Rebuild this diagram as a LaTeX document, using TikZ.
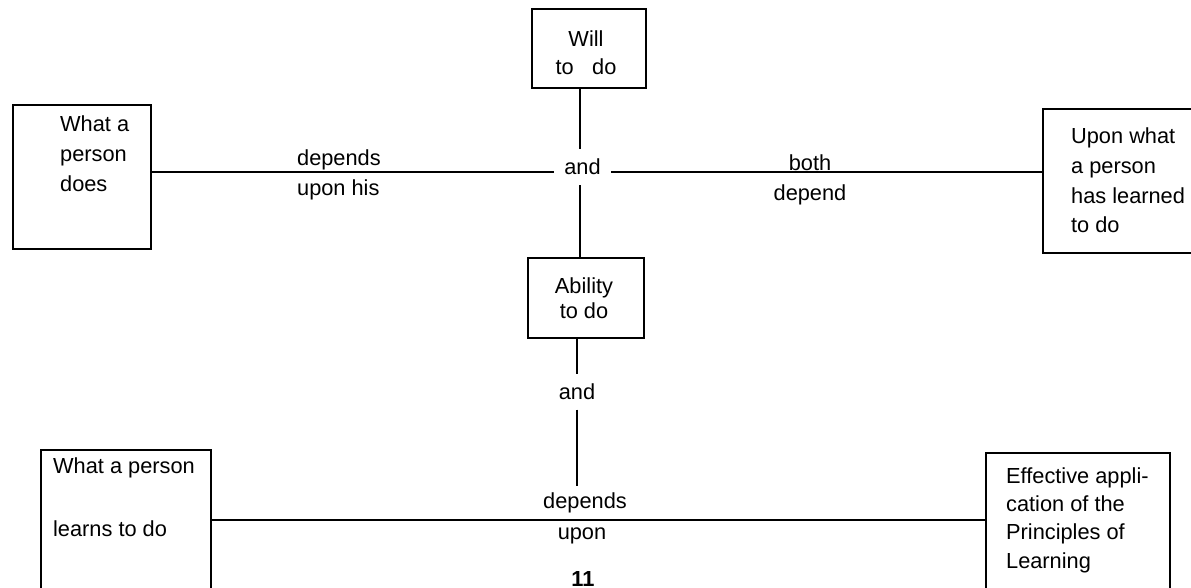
\documentclass[tikz,border=0pt]{standalone}
\usepackage{fontspec}
\setmainfont{Liberation Sans}
\begin{document}
\begin{tikzpicture}[x=0.02cm,y=-0.02cm,line width=1.3pt,
  box/.style={draw,rectangle,anchor=north west,inner sep=0pt},
  txt/.style={inner sep=0pt,align=left,anchor=base west},
  ctxt/.style={inner sep=0pt,align=center,anchor=base},
  conn/.style={draw,line width=1.3pt}]
\clip (0,0) rectangle (1191,588);
% boxes
\node[box,minimum width=2.76cm,minimum height=2.88cm] (b1) at (12,104) {};
\node[box,minimum width=2.28cm,minimum height=1.58cm] (will) at (531,8) {};
\node[box,minimum width=2.32cm,minimum height=1.60cm] (abil) at (527,257) {};
\node[box,minimum width=4.00cm,minimum height=2.88cm] (b4) at (1042,108) {};
\node[box,minimum width=3.40cm,minimum height=4.00cm] (b5) at (40,449) {};
\node[box,minimum width=3.68cm,minimum height=4.00cm] (b6) at (985,452) {};
% box texts (anchor = baseline of last line)
\node[txt,font=\fontsize{12.4}{17}\selectfont] (t1) at (59,191.7) {What a\\person\\does};
\node[ctxt,font=\fontsize{12.4}{16}\selectfont] (t2) at (586,75) {Will\\to\hspace{0.85em}do};
\node[ctxt,font=\fontsize{12.4}{14.2}\selectfont] (t3) at (584,318) {Ability\\to do};
\node[txt,font=\fontsize{12.4}{16.9}\selectfont] (t4) at (1070,233) {Upon what\\a person\\has learned\\to do};
\node[txt,font=\fontsize{12.4}{35.8}\selectfont] (t5) at (52,536) {What a person\\learns to do};
\node[txt,font=\fontsize{12.4}{16.1}\selectfont] (t6) at (1005,568) {Effective appli-\\cation of the\\Principles of\\Learning};
% labels
\node[txt,font=\fontsize{12.4}{17}\selectfont] (l1) at (296,195) {depends\\upon his};
\node[ctxt,font=\fontsize{12.4}{17}\selectfont] (l2) at (810,200) {both\\depend};
\node[inner sep=0pt,minimum width=1.1cm,minimum height=0.68cm,font=\fontsize{12.4}{14}\selectfont] (and1) at (582.5,167) {and};
\node[inner sep=0pt,minimum height=0.66cm,font=\fontsize{12.4}{14}\selectfont] (and2) at (577,392) {and};
\node[ctxt,inner ysep=0.1cm,font=\fontsize{12.4}{14}\selectfont] (dep2) at (585,508) {depends};
\node[ctxt,font=\fontsize{12.4}{14}\selectfont] (upon) at (582,539) {upon};
\node[ctxt,font=\bfseries\fontsize{12.4}{14}\selectfont] (pg) at (583,586) {11};
% helper coordinates
\coordinate (hl) at (582,172);
\coordinate (hl2) at (582,520);
\coordinate (v1) at (580,0);
\coordinate (v2) at (577,0);
% connectors
\draw[conn] (b1.east |- hl) -- (hl -| and1.west);
\draw[conn] (hl -| and1.east) -- (b4.west |- hl);
\draw[conn] (will.south -| v1) -- (and1.north -| v1);
\draw[conn] (and1.south -| v1) -- (abil.north -| v1);
\draw[conn] (abil.south -| v2) -- (and2.north -| v2);
\draw[conn] (and2.south -| v2) -- (dep2.north -| v2);
\draw[conn] (b5.east |- hl2) -- (b6.west |- hl2);
\end{tikzpicture}
\end{document}
